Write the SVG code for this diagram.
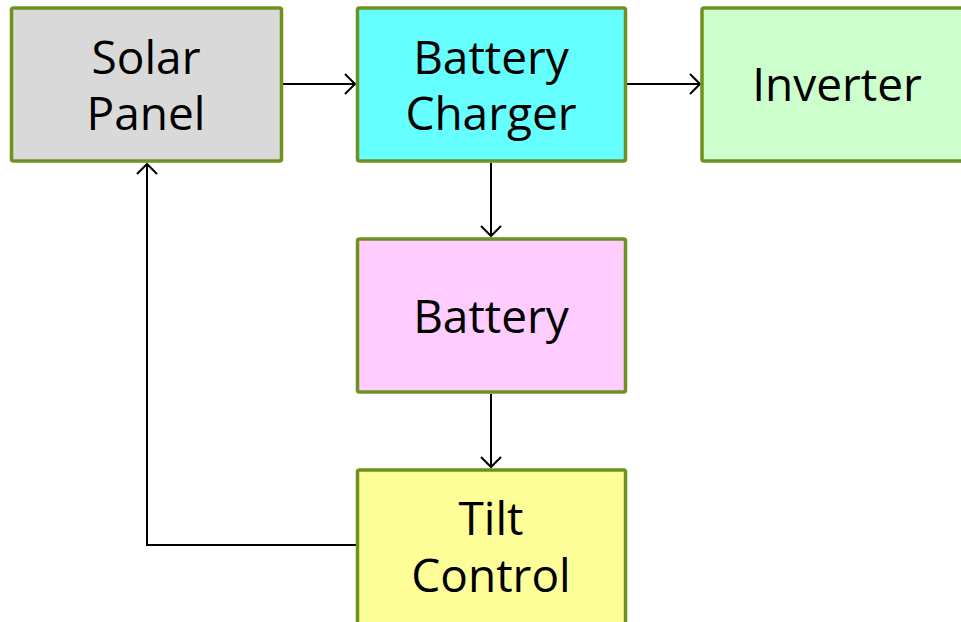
<svg xmlns="http://www.w3.org/2000/svg" width="961" height="622" viewBox="0 0 961 622">
<style>
.box{stroke:#6f9120;stroke-width:3.5}
.lbl{font-family:"Open Sans","DejaVu Sans",sans-serif;font-size:46px;fill:#000;text-anchor:middle}
.con{fill:none;stroke:#000;stroke-width:2}
</style>
<defs>
<marker id="arr" markerWidth="14" markerHeight="22" refX="11" refY="11" orient="auto" markerUnits="userSpaceOnUse">
<path d="M1,1 L11,11 L1,21" fill="none" stroke="#000" stroke-width="2"/>
</marker>
</defs>
<rect width="961" height="622" fill="#fff"/>
<g id="connectors">
<path class="con" d="M282,84 L355,84" marker-end="url(#arr)"/>
<path class="con" d="M627,84 L700,84" marker-end="url(#arr)"/>
<path class="con" d="M491,163 L491,236" marker-end="url(#arr)"/>
<path class="con" d="M491,394 L491,467" marker-end="url(#arr)"/>
<path class="con" d="M356,545 L147,545 L147,164" marker-end="url(#arr)"/>
</g>
<g id="solar-panel">
<rect class="box" x="11.5" y="8" width="270" height="153" rx="2" fill="#d9d9d9"/>
<text class="lbl" x="146" y="74">Solar</text>
<text class="lbl" x="146" y="130">Panel</text>
</g>
<g id="battery-charger">
<rect class="box" x="357.5" y="8" width="268" height="153" rx="2" fill="#66ffff"/>
<text class="lbl" x="491" y="74">Battery</text>
<text class="lbl" x="491" y="130">Charger</text>
</g>
<g id="inverter">
<rect class="box" x="702" y="8" width="275" height="153" rx="2" fill="#ccffcc"/>
<text class="lbl" x="837" y="101">Inverter</text>
</g>
<g id="battery">
<rect class="box" x="357.5" y="239" width="268" height="153" rx="2" fill="#ffccff"/>
<text class="lbl" x="491" y="333">Battery</text>
</g>
<g id="tilt-control">
<rect class="box" x="357.5" y="470" width="268" height="170" rx="2" fill="#ffff99"/>
<text class="lbl" x="491" y="535">Tilt</text>
<text class="lbl" x="491" y="592">Control</text>
</g>
</svg>
